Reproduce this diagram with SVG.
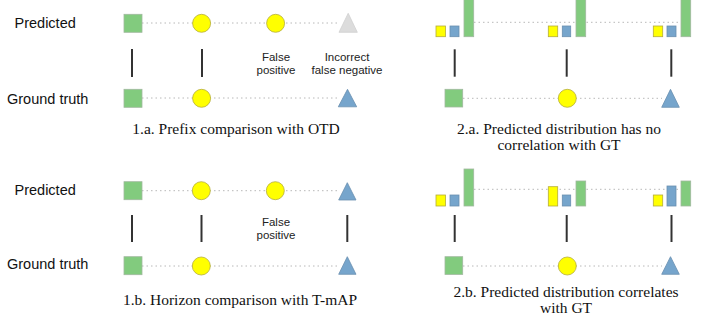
<svg xmlns="http://www.w3.org/2000/svg" width="706" height="325" viewBox="0 0 706 325">
<style>
.lbl{font-family:"Liberation Sans",Arial,sans-serif;font-size:14.5px;fill:#111}
.sm{font-family:"Liberation Sans",Arial,sans-serif;font-size:11.5px;fill:#222;text-anchor:middle}
.cap{font-family:"Liberation Serif","Times New Roman",serif;font-size:15.5px;fill:#111;text-anchor:middle}
.dot{stroke:#b8b8b8;stroke-width:1;stroke-dasharray:1.5 3;fill:none}
.vb{stroke:#333;stroke-width:2}
.g{fill:#82cb7e;stroke:#a0b89e;stroke-width:0.8}
.y{fill:#ffff00;stroke:#b5ad3a;stroke-width:0.8}
.b{fill:#76a5cc;stroke:#6a8fb0;stroke-width:0.8}
.gr{fill:#dcdcdc;stroke:#d0d0d0;stroke-width:0.8}
</style>
<rect width="706" height="325" fill="#fff"/>
<g id="connectors">
<line class="dot" x1="142" y1="23" x2="339" y2="23"/>
<line class="dot" x1="142" y1="98" x2="339" y2="98"/>
<line class="vb" x1="132" y1="49" x2="132" y2="77"/>
<line class="vb" x1="202" y1="49" x2="202" y2="77"/>
<line class="dot" x1="142" y1="190.7" x2="339" y2="190.7"/>
<line class="dot" x1="142" y1="266" x2="339" y2="266"/>
<line class="vb" x1="132" y1="215" x2="132" y2="242"/>
<line class="vb" x1="201.5" y1="215" x2="201.5" y2="242"/>
<line class="vb" x1="347.3" y1="215" x2="347.3" y2="242"/>
<line class="dot" x1="474" y1="22.3" x2="681" y2="22.3"/>
<line class="dot" x1="463" y1="98.3" x2="662" y2="98.3"/>
<line class="vb" x1="454.7" y1="49.3" x2="454.7" y2="76.7"/>
<line class="vb" x1="566.7" y1="49.3" x2="566.7" y2="76.7"/>
<line class="vb" x1="671.3" y1="49.3" x2="671.3" y2="76.7"/>
<line class="dot" x1="474" y1="189.3" x2="681" y2="189.3"/>
<line class="dot" x1="463" y1="266" x2="662" y2="266"/>
<line class="vb" x1="454.7" y1="215" x2="454.7" y2="242"/>
<line class="vb" x1="566.7" y1="215" x2="566.7" y2="242"/>
<line class="vb" x1="671.5" y1="215" x2="671.5" y2="242"/>
</g>
<g id="panel1a">
<text class="lbl" x="14.5" y="27.5">Predicted</text>
<text class="lbl" x="7" y="104.3">Ground truth</text>
<g id="p1a-sq"><rect class="g" x="124" y="14.3" width="18" height="18"/></g>
<g id="p1a-c1"><circle class="y" cx="201.6" cy="23.3" r="9"/></g>
<g id="p1a-c2"><circle class="y" cx="275.6" cy="23.3" r="9"/></g>
<g id="p1a-tri"><polygon class="gr" points="348.2,13.3 339,32.3 357.3,32.3"/></g>
<text class="sm" x="276" y="61">False</text>
<text class="sm" x="276" y="73.5">positive</text>
<text class="sm" x="347" y="61">Incorrect</text>
<text class="sm" x="347" y="73.5">false negative</text>
<g id="g1a-sq"><rect class="g" x="124" y="89.3" width="18" height="18"/></g>
<g id="g1a-c"><circle class="y" cx="201.6" cy="98.3" r="9"/></g>
<g id="g1a-tri"><polygon class="b" points="347.5,89.3 338.3,106.8 356.7,106.8"/></g>
<text class="cap" x="236" y="134">1.a. Prefix comparison with OTD</text>
</g>
<g id="panel1b">
<text class="lbl" x="14.5" y="194.5">Predicted</text>
<text class="lbl" x="7" y="269.3">Ground truth</text>
<g id="p1b-sq"><rect class="g" x="124" y="181.7" width="18" height="18"/></g>
<g id="p1b-c1"><circle class="y" cx="201.3" cy="190.7" r="9"/></g>
<g id="p1b-c2"><circle class="y" cx="275.3" cy="190.7" r="9"/></g>
<g id="p1b-tri"><polygon class="b" points="347.3,182.7 338.7,200 356,200"/></g>
<text class="sm" x="276" y="226">False</text>
<text class="sm" x="276" y="238.5">positive</text>
<g id="g1b-sq"><rect class="g" x="124" y="256.7" width="18" height="18"/></g>
<g id="g1b-c"><circle class="y" cx="201.3" cy="266" r="9"/></g>
<g id="g1b-tri"><polygon class="b" points="347.3,256.7 338.7,274.3 356,274.3"/></g>
<text class="cap" x="240" y="305">1.b. Horizon comparison with T-mAP</text>
</g>
<g id="panel2a">
<g id="p2a-d1"><rect class="y" x="436" y="26" width="9.5" height="10.7"/><rect class="b" x="450" y="26" width="9" height="10.7"/><rect class="g" x="464" y="-5" width="9.7" height="41.7"/></g>
<g id="p2a-d2"><rect class="y" x="548.3" y="26" width="9.4" height="10.7"/><rect class="b" x="562.3" y="26" width="8.4" height="10.7"/><rect class="g" x="576" y="-5" width="9.7" height="41.7"/></g>
<g id="p2a-d3"><rect class="y" x="653.3" y="26" width="9.4" height="10.7"/><rect class="b" x="667" y="26" width="9" height="10.7"/><rect class="g" x="681" y="-5" width="9.7" height="41.7"/></g>
<g id="g2a-sq"><rect class="g" x="445" y="89.3" width="17.7" height="17.7"/></g>
<g id="g2a-c"><circle class="y" cx="567.3" cy="98.3" r="9"/></g>
<g id="g2a-tri"><polygon class="b" points="670.5,89.3 661.7,107.3 679.3,107.3"/></g>
<text class="cap" x="559" y="133.5">2.a. Predicted distribution has no</text>
<text class="cap" x="559" y="149.5">correlation with GT</text>
</g>
<g id="panel2b">
<g id="p2b-d1"><rect class="y" x="436" y="195" width="9.5" height="11"/><rect class="b" x="450" y="195" width="9" height="11"/><rect class="g" x="464" y="169" width="9.7" height="37"/></g>
<g id="p2b-d2"><rect class="y" x="548.3" y="186.7" width="9.4" height="19.3"/><rect class="b" x="562.3" y="195" width="8.4" height="11"/><rect class="g" x="576" y="181" width="9.7" height="25"/></g>
<g id="p2b-d3"><rect class="y" x="653.3" y="195" width="9.4" height="11"/><rect class="b" x="667" y="186" width="9" height="20"/><rect class="g" x="681" y="181" width="9.7" height="25"/></g>
<g id="g2b-sq"><rect class="g" x="445" y="256.7" width="17.7" height="17.7"/></g>
<g id="g2b-c"><circle class="y" cx="567.3" cy="266" r="9"/></g>
<g id="g2b-tri"><polygon class="b" points="670.5,256.7 661.7,274.3 679.3,274.3"/></g>
<text class="cap" x="566" y="297">2.b. Predicted distribution correlates</text>
<text class="cap" x="566" y="312.5">with GT</text>
</g>
</svg>
